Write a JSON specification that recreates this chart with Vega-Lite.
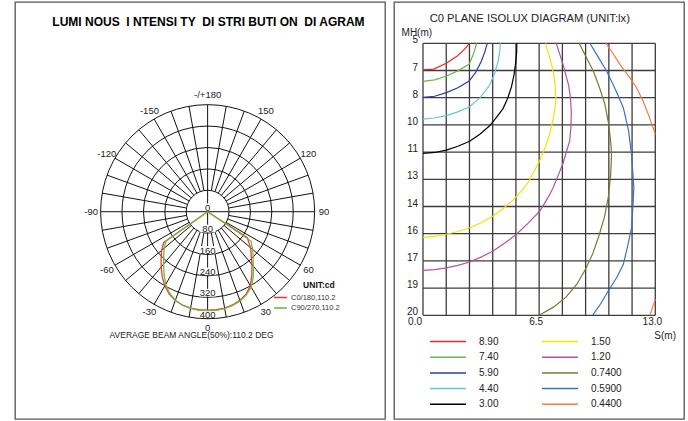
{
  "$schema": "https://vega.github.io/schema/vega-lite/v6.json",
  "background": "white",
  "padding": {"left": 14, "top": 1, "right": 5, "bottom": 2},
  "spacing": 7,
  "config": {
    "view": {"stroke": "#555", "strokeWidth": 1.3},
    "font": "Liberation Sans",
    "text": {"color": "#222"}
  },
  "datasets": {
    "rings": [{"r": 80}, {"r": 160}, {"r": 240}, {"r": 320}, {"r": 400}],
    "spokes": [
      {"a": -170, "r0": 80}, {"a": -160, "r0": 80}, {"a": -150, "r0": 80}, {"a": -140, "r0": 80}, {"a": -130, "r0": 80}, {"a": -120, "r0": 80}, {"a": -110, "r0": 80}, {"a": -100, "r0": 80}, {"a": -90, "r0": 0},
      {"a": -80, "r0": 80}, {"a": -70, "r0": 80}, {"a": -60, "r0": 80}, {"a": -50, "r0": 80}, {"a": -40, "r0": 80}, {"a": -30, "r0": 80}, {"a": -20, "r0": 80}, {"a": -10, "r0": 80}, {"a": 0, "r0": 0},
      {"a": 10, "r0": 80}, {"a": 20, "r0": 80}, {"a": 30, "r0": 80}, {"a": 40, "r0": 80}, {"a": 50, "r0": 80}, {"a": 60, "r0": 80}, {"a": 70, "r0": 80}, {"a": 80, "r0": 80}, {"a": 90, "r0": 0},
      {"a": 100, "r0": 80}, {"a": 110, "r0": 80}, {"a": 120, "r0": 80}, {"a": 130, "r0": 80}, {"a": 140, "r0": 80}, {"a": 150, "r0": 80}, {"a": 160, "r0": 80}, {"a": 170, "r0": 80}, {"a": 180, "r0": 0}
    ],
    "ringLabels": [{"r": 0, "t": "0"}, {"r": 80, "t": "80"}, {"r": 160, "t": "160"}, {"r": 240, "t": "240"}, {"r": 320, "t": "320"}, {"r": 400, "t": "400"}],
    "angleLabels": [
      {"a": 180, "t": "-/+180"}, {"a": 150, "t": "150"}, {"a": 120, "t": "120"}, {"a": 90, "t": "90"}, {"a": 60, "t": "60"}, {"a": 30, "t": "30"},
      {"a": 0, "t": "0"}, {"a": -30, "t": "-30"}, {"a": -60, "t": "-60"}, {"a": -90, "t": "-90"}, {"a": -120, "t": "-120"}, {"a": -150, "t": "-150"}
    ],
    "intensity": [
      {"c": "C0/180,110.2", "g": -90, "i": 0}, {"c": "C0/180,110.2", "g": -55, "i": 200}, {"c": "C0/180,110.2", "g": -50, "i": 224}, {"c": "C0/180,110.2", "g": -45, "i": 246},
      {"c": "C0/180,110.2", "g": -40, "i": 270}, {"c": "C0/180,110.2", "g": -35, "i": 296}, {"c": "C0/180,110.2", "g": -30, "i": 320}, {"c": "C0/180,110.2", "g": -25, "i": 340},
      {"c": "C0/180,110.2", "g": -20, "i": 353}, {"c": "C0/180,110.2", "g": -15, "i": 362}, {"c": "C0/180,110.2", "g": -10, "i": 366}, {"c": "C0/180,110.2", "g": -5, "i": 368},
      {"c": "C0/180,110.2", "g": 0, "i": 368}, {"c": "C0/180,110.2", "g": 5, "i": 368}, {"c": "C0/180,110.2", "g": 10, "i": 366}, {"c": "C0/180,110.2", "g": 15, "i": 361},
      {"c": "C0/180,110.2", "g": 20, "i": 352}, {"c": "C0/180,110.2", "g": 25, "i": 340}, {"c": "C0/180,110.2", "g": 30, "i": 320}, {"c": "C0/180,110.2", "g": 35, "i": 288},
      {"c": "C0/180,110.2", "g": 40, "i": 258}, {"c": "C0/180,110.2", "g": 45, "i": 230}, {"c": "C0/180,110.2", "g": 50, "i": 210}, {"c": "C0/180,110.2", "g": 57, "i": 176},
      {"c": "C0/180,110.2", "g": 90, "i": 0},
      {"c": "C90/270,110.2", "g": -90, "i": 0}, {"c": "C90/270,110.2", "g": -55, "i": 190}, {"c": "C90/270,110.2", "g": -50, "i": 212}, {"c": "C90/270,110.2", "g": -45, "i": 232},
      {"c": "C90/270,110.2", "g": -40, "i": 256}, {"c": "C90/270,110.2", "g": -35, "i": 284}, {"c": "C90/270,110.2", "g": -30, "i": 314}, {"c": "C90/270,110.2", "g": -25, "i": 336},
      {"c": "C90/270,110.2", "g": -20, "i": 352}, {"c": "C90/270,110.2", "g": -15, "i": 362}, {"c": "C90/270,110.2", "g": -10, "i": 367}, {"c": "C90/270,110.2", "g": -5, "i": 370},
      {"c": "C90/270,110.2", "g": 0, "i": 370}, {"c": "C90/270,110.2", "g": 5, "i": 370}, {"c": "C90/270,110.2", "g": 10, "i": 368}, {"c": "C90/270,110.2", "g": 15, "i": 363},
      {"c": "C90/270,110.2", "g": 20, "i": 355}, {"c": "C90/270,110.2", "g": 25, "i": 343}, {"c": "C90/270,110.2", "g": 30, "i": 326}, {"c": "C90/270,110.2", "g": 35, "i": 298},
      {"c": "C90/270,110.2", "g": 40, "i": 266}, {"c": "C90/270,110.2", "g": 45, "i": 240}, {"c": "C90/270,110.2", "g": 50, "i": 220}, {"c": "C90/270,110.2", "g": 56, "i": 196},
      {"c": "C90/270,110.2", "g": 90, "i": 0}
    ],
    "vgrid": [{"s": 0}, {"s": 1.3}, {"s": 2.6}, {"s": 3.9}, {"s": 5.2}, {"s": 6.5}, {"s": 7.8}, {"s": 9.1}, {"s": 10.4}, {"s": 11.7}, {"s": 13}],
    "hgrid": [{"mh": 5}, {"mh": 6.5}, {"mh": 8}, {"mh": 9.5}, {"mh": 11}, {"mh": 12.5}, {"mh": 14}, {"mh": 15.5}, {"mh": 17}, {"mh": 18.5}, {"mh": 20}],
    "ylabels": [
      {"mh": 5, "t": "5"}, {"mh": 6.5, "t": "7"}, {"mh": 8, "t": "8"}, {"mh": 9.5, "t": "10"}, {"mh": 11, "t": "11"}, {"mh": 12.5, "t": "13"},
      {"mh": 14, "t": "14"}, {"mh": 15.5, "t": "16"}, {"mh": 17, "t": "17"}, {"mh": 18.5, "t": "19"}, {"mh": 20, "t": "20"}
    ],
    "isolux": [
      {"lux": "8.90", "seg": "a", "o": 1, "s": 0, "mh": 6.47}, {"lux": "8.90", "seg": "a", "o": 2, "s": 0.6, "mh": 6.42}, {"lux": "8.90", "seg": "a", "o": 3, "s": 1.31, "mh": 6.1},
      {"lux": "8.90", "seg": "a", "o": 4, "s": 1.9, "mh": 5.72}, {"lux": "8.90", "seg": "a", "o": 5, "s": 2.3, "mh": 5.35}, {"lux": "8.90", "seg": "a", "o": 6, "s": 2.6, "mh": 5.0},

      {"lux": "7.40", "seg": "a", "o": 1, "s": 0, "mh": 7.1}, {"lux": "7.40", "seg": "a", "o": 2, "s": 0.65, "mh": 7.02}, {"lux": "7.40", "seg": "a", "o": 3, "s": 1.31, "mh": 6.8},
      {"lux": "7.40", "seg": "a", "o": 4, "s": 1.95, "mh": 6.52}, {"lux": "7.40", "seg": "a", "o": 5, "s": 2.58, "mh": 6.16}, {"lux": "7.40", "seg": "a", "o": 6, "s": 2.82, "mh": 5.6},
      {"lux": "7.40", "seg": "a", "o": 7, "s": 3.0, "mh": 5.0},

      {"lux": "5.90", "seg": "a", "o": 1, "s": 0, "mh": 7.98}, {"lux": "5.90", "seg": "a", "o": 2, "s": 0.65, "mh": 7.92}, {"lux": "5.90", "seg": "a", "o": 3, "s": 1.31, "mh": 7.72},
      {"lux": "5.90", "seg": "a", "o": 4, "s": 1.95, "mh": 7.45}, {"lux": "5.90", "seg": "a", "o": 5, "s": 2.58, "mh": 7.08}, {"lux": "5.90", "seg": "a", "o": 6, "s": 2.95, "mh": 6.6},
      {"lux": "5.90", "seg": "a", "o": 7, "s": 3.27, "mh": 5.98}, {"lux": "5.90", "seg": "a", "o": 8, "s": 3.45, "mh": 5.5}, {"lux": "5.90", "seg": "a", "o": 9, "s": 3.6, "mh": 5.0},

      {"lux": "4.40", "seg": "a", "o": 1, "s": 0, "mh": 9.18}, {"lux": "4.40", "seg": "a", "o": 2, "s": 0.65, "mh": 9.12}, {"lux": "4.40", "seg": "a", "o": 3, "s": 1.31, "mh": 8.99},
      {"lux": "4.40", "seg": "a", "o": 4, "s": 1.95, "mh": 8.78}, {"lux": "4.40", "seg": "a", "o": 5, "s": 2.61, "mh": 8.5}, {"lux": "4.40", "seg": "a", "o": 6, "s": 3.2, "mh": 8.0},
      {"lux": "4.40", "seg": "a", "o": 7, "s": 3.7, "mh": 7.35}, {"lux": "4.40", "seg": "a", "o": 8, "s": 4.0, "mh": 6.7}, {"lux": "4.40", "seg": "a", "o": 9, "s": 4.2, "mh": 6.0},
      {"lux": "4.40", "seg": "a", "o": 10, "s": 4.29, "mh": 5.5}, {"lux": "4.40", "seg": "a", "o": 11, "s": 4.33, "mh": 5.0},

      {"lux": "3.00", "seg": "a", "o": 1, "s": 0, "mh": 11.07}, {"lux": "3.00", "seg": "a", "o": 2, "s": 0.65, "mh": 11.02}, {"lux": "3.00", "seg": "a", "o": 3, "s": 1.31, "mh": 10.89},
      {"lux": "3.00", "seg": "a", "o": 4, "s": 1.95, "mh": 10.68}, {"lux": "3.00", "seg": "a", "o": 5, "s": 2.61, "mh": 10.4}, {"lux": "3.00", "seg": "a", "o": 6, "s": 3.2, "mh": 10.0},
      {"lux": "3.00", "seg": "a", "o": 7, "s": 3.73, "mh": 9.55}, {"lux": "3.00", "seg": "a", "o": 8, "s": 4.1, "mh": 9.1}, {"lux": "3.00", "seg": "a", "o": 9, "s": 4.48, "mh": 8.6},
      {"lux": "3.00", "seg": "a", "o": 10, "s": 4.75, "mh": 8.0}, {"lux": "3.00", "seg": "a", "o": 11, "s": 4.95, "mh": 7.4}, {"lux": "3.00", "seg": "a", "o": 12, "s": 5.1, "mh": 6.7},
      {"lux": "3.00", "seg": "a", "o": 13, "s": 5.2, "mh": 6.0}, {"lux": "3.00", "seg": "a", "o": 14, "s": 5.24, "mh": 5.5}, {"lux": "3.00", "seg": "a", "o": 15, "s": 5.25, "mh": 5.0},

      {"lux": "1.50", "seg": "a", "o": 1, "s": 0, "mh": 15.7}, {"lux": "1.50", "seg": "a", "o": 2, "s": 0.65, "mh": 15.65}, {"lux": "1.50", "seg": "a", "o": 3, "s": 1.31, "mh": 15.53},
      {"lux": "1.50", "seg": "a", "o": 4, "s": 1.95, "mh": 15.38}, {"lux": "1.50", "seg": "a", "o": 5, "s": 2.62, "mh": 15.17}, {"lux": "1.50", "seg": "a", "o": 6, "s": 3.27, "mh": 14.88},
      {"lux": "1.50", "seg": "a", "o": 7, "s": 3.92, "mh": 14.52}, {"lux": "1.50", "seg": "a", "o": 8, "s": 4.5, "mh": 14.1}, {"lux": "1.50", "seg": "a", "o": 9, "s": 5.04, "mh": 13.65},
      {"lux": "1.50", "seg": "a", "o": 10, "s": 5.5, "mh": 13.15}, {"lux": "1.50", "seg": "a", "o": 11, "s": 5.88, "mh": 12.69}, {"lux": "1.50", "seg": "a", "o": 12, "s": 6.2, "mh": 12.1},
      {"lux": "1.50", "seg": "a", "o": 13, "s": 6.53, "mh": 11.47}, {"lux": "1.50", "seg": "a", "o": 14, "s": 6.85, "mh": 10.7}, {"lux": "1.50", "seg": "a", "o": 15, "s": 7.09, "mh": 10.0},
      {"lux": "1.50", "seg": "a", "o": 16, "s": 7.28, "mh": 9.2}, {"lux": "1.50", "seg": "a", "o": 17, "s": 7.4, "mh": 8.5}, {"lux": "1.50", "seg": "a", "o": 18, "s": 7.43, "mh": 8.0},
      {"lux": "1.50", "seg": "a", "o": 19, "s": 7.4, "mh": 7.3}, {"lux": "1.50", "seg": "a", "o": 20, "s": 7.3, "mh": 6.6}, {"lux": "1.50", "seg": "a", "o": 21, "s": 7.15, "mh": 6.0},
      {"lux": "1.50", "seg": "a", "o": 22, "s": 7.0, "mh": 5.5}, {"lux": "1.50", "seg": "a", "o": 23, "s": 6.87, "mh": 5.0},

      {"lux": "1.20", "seg": "a", "o": 1, "s": 0, "mh": 17.52}, {"lux": "1.20", "seg": "a", "o": 2, "s": 0.65, "mh": 17.48}, {"lux": "1.20", "seg": "a", "o": 3, "s": 1.31, "mh": 17.38},
      {"lux": "1.20", "seg": "a", "o": 4, "s": 1.95, "mh": 17.25}, {"lux": "1.20", "seg": "a", "o": 5, "s": 2.62, "mh": 17.06}, {"lux": "1.20", "seg": "a", "o": 6, "s": 3.27, "mh": 16.78},
      {"lux": "1.20", "seg": "a", "o": 7, "s": 3.92, "mh": 16.45}, {"lux": "1.20", "seg": "a", "o": 8, "s": 4.6, "mh": 16.0}, {"lux": "1.20", "seg": "a", "o": 9, "s": 5.23, "mh": 15.53},
      {"lux": "1.20", "seg": "a", "o": 10, "s": 5.9, "mh": 14.9}, {"lux": "1.20", "seg": "a", "o": 11, "s": 6.54, "mh": 14.25}, {"lux": "1.20", "seg": "a", "o": 12, "s": 7.0, "mh": 13.5},
      {"lux": "1.20", "seg": "a", "o": 13, "s": 7.28, "mh": 12.97}, {"lux": "1.20", "seg": "a", "o": 14, "s": 7.6, "mh": 12.2}, {"lux": "1.20", "seg": "a", "o": 15, "s": 7.84, "mh": 11.6},
      {"lux": "1.20", "seg": "a", "o": 16, "s": 8.05, "mh": 10.9}, {"lux": "1.20", "seg": "a", "o": 17, "s": 8.21, "mh": 10.37}, {"lux": "1.20", "seg": "a", "o": 18, "s": 8.28, "mh": 9.6},
      {"lux": "1.20", "seg": "a", "o": 19, "s": 8.3, "mh": 8.8}, {"lux": "1.20", "seg": "a", "o": 20, "s": 8.25, "mh": 8.0}, {"lux": "1.20", "seg": "a", "o": 21, "s": 8.15, "mh": 7.3},
      {"lux": "1.20", "seg": "a", "o": 22, "s": 8.03, "mh": 6.89}, {"lux": "1.20", "seg": "a", "o": 23, "s": 7.85, "mh": 6.2}, {"lux": "1.20", "seg": "a", "o": 24, "s": 7.65, "mh": 5.6},
      {"lux": "1.20", "seg": "a", "o": 25, "s": 7.46, "mh": 5.0},

      {"lux": "0.7400", "seg": "a", "o": 1, "s": 8.74, "mh": 5.0}, {"lux": "0.7400", "seg": "a", "o": 2, "s": 9.13, "mh": 5.75}, {"lux": "0.7400", "seg": "a", "o": 3, "s": 9.53, "mh": 6.53},
      {"lux": "0.7400", "seg": "a", "o": 4, "s": 9.88, "mh": 7.45}, {"lux": "0.7400", "seg": "a", "o": 5, "s": 10.18, "mh": 8.37}, {"lux": "0.7400", "seg": "a", "o": 6, "s": 10.4, "mh": 9.5},
      {"lux": "0.7400", "seg": "a", "o": 7, "s": 10.52, "mh": 10.6}, {"lux": "0.7400", "seg": "a", "o": 8, "s": 10.55, "mh": 11.2}, {"lux": "0.7400", "seg": "a", "o": 9, "s": 10.5, "mh": 12.3},
      {"lux": "0.7400", "seg": "a", "o": 10, "s": 10.37, "mh": 13.5}, {"lux": "0.7400", "seg": "a", "o": 11, "s": 10.15, "mh": 14.6}, {"lux": "0.7400", "seg": "a", "o": 12, "s": 9.85, "mh": 15.6},
      {"lux": "0.7400", "seg": "a", "o": 13, "s": 9.5, "mh": 16.6}, {"lux": "0.7400", "seg": "a", "o": 14, "s": 9.1, "mh": 17.45}, {"lux": "0.7400", "seg": "a", "o": 15, "s": 8.6, "mh": 18.3},
      {"lux": "0.7400", "seg": "a", "o": 16, "s": 8.0, "mh": 19.0}, {"lux": "0.7400", "seg": "a", "o": 17, "s": 7.3, "mh": 19.55}, {"lux": "0.7400", "seg": "a", "o": 18, "s": 6.5, "mh": 20.0},

      {"lux": "0.5900", "seg": "a", "o": 1, "s": 9.34, "mh": 5.0}, {"lux": "0.5900", "seg": "a", "o": 2, "s": 9.8, "mh": 5.75}, {"lux": "0.5900", "seg": "a", "o": 3, "s": 10.27, "mh": 6.53},
      {"lux": "0.5900", "seg": "a", "o": 4, "s": 10.75, "mh": 7.5}, {"lux": "0.5900", "seg": "a", "o": 5, "s": 11.21, "mh": 8.55}, {"lux": "0.5900", "seg": "a", "o": 6, "s": 11.5, "mh": 9.8},
      {"lux": "0.5900", "seg": "a", "o": 7, "s": 11.67, "mh": 11.12}, {"lux": "0.5900", "seg": "a", "o": 8, "s": 11.8, "mh": 12.96}, {"lux": "0.5900", "seg": "a", "o": 9, "s": 11.75, "mh": 14.0},
      {"lux": "0.5900", "seg": "a", "o": 10, "s": 11.67, "mh": 15.17}, {"lux": "0.5900", "seg": "a", "o": 11, "s": 11.45, "mh": 16.2}, {"lux": "0.5900", "seg": "a", "o": 12, "s": 11.21, "mh": 17.19},
      {"lux": "0.5900", "seg": "a", "o": 13, "s": 10.85, "mh": 17.9}, {"lux": "0.5900", "seg": "a", "o": 14, "s": 10.37, "mh": 18.66}, {"lux": "0.5900", "seg": "a", "o": 15, "s": 9.95, "mh": 19.35},
      {"lux": "0.5900", "seg": "a", "o": 16, "s": 9.49, "mh": 20.0},

      {"lux": "0.4400", "seg": "a", "o": 1, "s": 10.24, "mh": 5.0}, {"lux": "0.4400", "seg": "a", "o": 2, "s": 10.62, "mh": 5.55}, {"lux": "0.4400", "seg": "a", "o": 3, "s": 11.02, "mh": 6.16},
      {"lux": "0.4400", "seg": "a", "o": 4, "s": 11.5, "mh": 6.8}, {"lux": "0.4400", "seg": "a", "o": 5, "s": 11.95, "mh": 7.45}, {"lux": "0.4400", "seg": "a", "o": 6, "s": 12.3, "mh": 8.15},
      {"lux": "0.4400", "seg": "a", "o": 7, "s": 12.61, "mh": 8.92}, {"lux": "0.4400", "seg": "a", "o": 8, "s": 12.82, "mh": 9.5}, {"lux": "0.4400", "seg": "a", "o": 9, "s": 13.0, "mh": 10.02},
      {"lux": "0.4400", "seg": "b", "o": 1, "s": 12.7, "mh": 20.0}, {"lux": "0.4400", "seg": "b", "o": 2, "s": 12.85, "mh": 19.55}, {"lux": "0.4400", "seg": "b", "o": 3, "s": 13.0, "mh": 19.12}
    ]
  },
  "resolve": {"scale": {"color": "independent"}, "legend": {"color": "independent"}},
  "hconcat": [
    {
      "width": 370,
      "height": 417,
      "layer": [
        {
          "data": {"name": "rings"},
          "mark": {"type": "point", "shape": "circle", "filled": false, "stroke": "#111", "strokeWidth": 1, "opacity": 1},
          "encoding": {
            "x": {"datum": 0, "type": "quantitative", "scale": {"domain": [-720, 663], "nice": false, "zero": false}, "axis": null},
            "y": {"datum": 0, "type": "quantitative", "scale": {"domain": [-775, 784], "nice": false, "zero": false}, "axis": null},
            "size": {"field": "r", "type": "quantitative", "scale": {"type": "pow", "exponent": 2, "domain": [0, 400], "range": [0, 45796]}, "legend": null}
          }
        },
        {
          "data": {"name": "spokes"},
          "transform": [
            {"calculate": "datum.r0*sin(datum.a*PI/180)", "as": "px"},
            {"calculate": "-datum.r0*cos(datum.a*PI/180)", "as": "py"},
            {"calculate": "400*sin(datum.a*PI/180)", "as": "px2"},
            {"calculate": "-400*cos(datum.a*PI/180)", "as": "py2"}
          ],
          "mark": {"type": "rule", "stroke": "#111", "strokeWidth": 1},
          "encoding": {
            "x": {"field": "px", "type": "quantitative", "scale": {"domain": [-720, 663], "nice": false, "zero": false}, "axis": null},
            "y": {"field": "py", "type": "quantitative", "scale": {"domain": [-775, 784], "nice": false, "zero": false}, "axis": null},
            "x2": {"field": "px2"},
            "y2": {"field": "py2"}
          }
        },
        {
          "data": {"name": "ringLabels"},
          "transform": [{"calculate": "-datum.r", "as": "py"}],
          "mark": {"type": "point", "shape": "M-1,-1.05H1V-0.1H-1Z", "filled": true, "fill": "white", "stroke": null, "size": 256, "opacity": 1},
          "encoding": {
            "x": {"datum": 0, "type": "quantitative", "scale": {"domain": [-720, 663], "nice": false, "zero": false}, "axis": null},
            "y": {"field": "py", "type": "quantitative", "scale": {"domain": [-775, 784], "nice": false, "zero": false}, "axis": null}
          }
        },
        {
          "data": {"name": "ringLabels"},
          "transform": [{"calculate": "-datum.r", "as": "py"}],
          "mark": {"type": "text", "fontSize": 9.5, "baseline": "alphabetic", "align": "center", "dy": -1},
          "encoding": {
            "x": {"datum": 0, "type": "quantitative", "scale": {"domain": [-720, 663], "nice": false, "zero": false}, "axis": null},
            "y": {"field": "py", "type": "quantitative", "scale": {"domain": [-775, 784], "nice": false, "zero": false}, "axis": null},
            "text": {"field": "t"}
          }
        },
        {
          "data": {"name": "angleLabels"},
          "transform": [
            {"calculate": "435*sin(datum.a*PI/180)", "as": "px"},
            {"calculate": "-435*cos(datum.a*PI/180)", "as": "py"}
          ],
          "mark": {"type": "text", "fontSize": 9.5, "baseline": "middle", "align": "center"},
          "encoding": {
            "x": {"field": "px", "type": "quantitative", "scale": {"domain": [-720, 663], "nice": false, "zero": false}, "axis": null},
            "y": {"field": "py", "type": "quantitative", "scale": {"domain": [-775, 784], "nice": false, "zero": false}, "axis": null},
            "text": {"field": "t"}
          }
        },
        {
          "data": {"name": "intensity"},
          "transform": [
            {"calculate": "datum.i*sin(datum.g*PI/180)", "as": "px"},
            {"calculate": "-datum.i*cos(datum.g*PI/180)", "as": "py"}
          ],
          "mark": {"type": "line", "strokeWidth": 1.3},
          "encoding": {
            "x": {"field": "px", "type": "quantitative", "scale": {"domain": [-720, 663], "nice": false, "zero": false}, "axis": null},
            "y": {"field": "py", "type": "quantitative", "scale": {"domain": [-775, 784], "nice": false, "zero": false}, "axis": null},
            "order": {"field": "g", "type": "quantitative"},
            "color": {
              "field": "c", "type": "nominal",
              "scale": {"domain": ["C0/180,110.2", "C90/270,110.2"], "range": ["#ec3a3a", "#6cbd42"]},
              "legend": {
                "orient": "none", "legendX": 261, "legendY": 291, "title": null, "padding": 0,
                "symbolType": "M-2,0H2", "symbolSize": 42, "symbolStrokeWidth": 1.6,
                "labelFontSize": 7.5, "labelOffset": 6, "rowPadding": 2.5, "labelColor": "#333"
              }
            }
          }
        },
        {
          "data": {"values": [{"t": "LUMI NOUS\u00a0 I NTENSI TY\u00a0 DI STRI BUTI ON\u00a0 DI AGRAM"}]},
          "mark": {"type": "text", "fontSize": 12, "fontWeight": "bold", "baseline": "middle", "align": "center", "color": "#000"},
          "encoding": {
            "x": {"datum": 3, "type": "quantitative", "scale": {"domain": [-720, 663], "nice": false, "zero": false}, "axis": null},
            "y": {"datum": 709, "type": "quantitative", "scale": {"domain": [-775, 784], "nice": false, "zero": false}, "axis": null},
            "text": {"field": "t"}
          }
        },
        {
          "data": {"values": [{"t": "AVERAGE BEAM ANGLE(50%):110.2 DEG"}]},
          "mark": {"type": "text", "fontSize": 8.5, "baseline": "middle", "align": "center"},
          "encoding": {
            "x": {"datum": -60, "type": "quantitative", "scale": {"domain": [-720, 663], "nice": false, "zero": false}, "axis": null},
            "y": {"datum": -462, "type": "quantitative", "scale": {"domain": [-775, 784], "nice": false, "zero": false}, "axis": null},
            "text": {"field": "t"}
          }
        },
        {
          "data": {"values": [{"t": "UNIT:cd"}]},
          "mark": {"type": "text", "fontSize": 8.5, "fontWeight": "bold", "baseline": "middle", "align": "center", "color": "#111"},
          "encoding": {
            "x": {"datum": 416, "type": "quantitative", "scale": {"domain": [-720, 663], "nice": false, "zero": false}, "axis": null},
            "y": {"datum": -274, "type": "quantitative", "scale": {"domain": [-775, 784], "nice": false, "zero": false}, "axis": null},
            "text": {"field": "t"}
          }
        }
      ]
    },
    {
      "width": 290,
      "height": 417,
      "layer": [
        {
          "data": {"name": "vgrid"},
          "mark": {"type": "rule", "stroke": "#3c3c3c", "strokeWidth": 1.3},
          "encoding": {
            "x": {"field": "s", "type": "quantitative", "scale": {"domain": [-1.623, 14.606], "nice": false, "zero": false}, "axis": null},
            "y": {"datum": 5, "type": "quantitative", "scale": {"domain": [2.722, 25.719], "reverse": true, "nice": false, "zero": false}, "axis": null},
            "y2": {"datum": 20}
          }
        },
        {
          "data": {"name": "hgrid"},
          "mark": {"type": "rule", "stroke": "#3c3c3c", "strokeWidth": 1.3},
          "encoding": {
            "x": {"datum": 0, "type": "quantitative", "scale": {"domain": [-1.623, 14.606], "nice": false, "zero": false}, "axis": null},
            "x2": {"datum": 13},
            "y": {"field": "mh", "type": "quantitative", "scale": {"domain": [2.722, 25.719], "reverse": true, "nice": false, "zero": false}, "axis": null}
          }
        },
        {
          "data": {"name": "ylabels"},
          "mark": {"type": "text", "fontSize": 10, "align": "right", "baseline": "alphabetic", "dx": -5, "dy": 0},
          "encoding": {
            "x": {"datum": 0, "type": "quantitative", "scale": {"domain": [-1.623, 14.606], "nice": false, "zero": false}, "axis": null},
            "y": {"field": "mh", "type": "quantitative", "scale": {"domain": [2.722, 25.719], "reverse": true, "nice": false, "zero": false}, "axis": null},
            "text": {"field": "t"}
          }
        },
        {
          "data": {"values": [{"s": 6.5, "t": "6.5"}, {"s": 13, "t": "13.0"}]},
          "mark": {"type": "text", "fontSize": 10, "align": "center", "baseline": "top", "dx": -3, "dy": 2},
          "encoding": {
            "x": {"field": "s", "type": "quantitative", "scale": {"domain": [-1.623, 14.606], "nice": false, "zero": false}, "axis": null},
            "y": {"datum": 20, "type": "quantitative", "scale": {"domain": [2.722, 25.719], "reverse": true, "nice": false, "zero": false}, "axis": null},
            "text": {"field": "t"}
          }
        },
        {
          "data": {"values": [{"s": 0, "t": "0.0"}]},
          "mark": {"type": "text", "fontSize": 10, "align": "right", "baseline": "top", "dx": -1, "dy": 2},
          "encoding": {
            "x": {"field": "s", "type": "quantitative", "scale": {"domain": [-1.623, 14.606], "nice": false, "zero": false}, "axis": null},
            "y": {"datum": 20, "type": "quantitative", "scale": {"domain": [2.722, 25.719], "reverse": true, "nice": false, "zero": false}, "axis": null},
            "text": {"field": "t"}
          }
        },
        {
          "data": {"name": "isolux"},
          "mark": {"type": "line", "strokeWidth": 1.2},
          "encoding": {
            "x": {"field": "s", "type": "quantitative", "scale": {"domain": [-1.623, 14.606], "nice": false, "zero": false}, "axis": null},
            "y": {"field": "mh", "type": "quantitative", "scale": {"domain": [2.722, 25.719], "reverse": true, "nice": false, "zero": false}, "axis": null},
            "order": {"field": "o", "type": "quantitative"},
            "detail": {"field": "seg", "type": "nominal"},
            "color": {
              "field": "lux", "type": "nominal",
              "scale": {
                "domain": ["8.90", "7.40", "5.90", "4.40", "3.00", "1.50", "1.20", "0.7400", "0.5900", "0.4400"],
                "range": ["#e8262b", "#6ab745", "#2d3e97", "#64c7d9", "#000000", "#f2e500", "#b8519f", "#7b7a2e", "#3b73c4", "#f47c3c"]
              },
              "legend": {
                "orient": "none", "legendX": 47, "legendY": 332.5, "title": null, "padding": 0, "columns": 2,
                "columnPadding": 40, "rowPadding": 3.7,
                "symbolType": "M-3,0H3", "symbolSize": 144, "symbolStrokeWidth": 1.5,
                "labelFontSize": 10, "labelOffset": 24, "labelColor": "#222"
              }
            }
          }
        },
        {
          "data": {"values": [{"t": "C0 PLANE ISOLUX DIAGRAM (UNIT:lx)"}]},
          "mark": {"type": "text", "fontSize": 11.2, "align": "left", "baseline": "middle"},
          "encoding": {
            "x": {"datum": 0.375, "type": "quantitative", "scale": {"domain": [-1.623, 14.606], "nice": false, "zero": false}, "axis": null},
            "y": {"datum": 3.66, "type": "quantitative", "scale": {"domain": [2.722, 25.719], "reverse": true, "nice": false, "zero": false}, "axis": null},
            "text": {"field": "t"}
          }
        },
        {
          "data": {"values": [{"t": "MH(m)"}]},
          "mark": {"type": "text", "fontSize": 10, "align": "left", "baseline": "middle"},
          "encoding": {
            "x": {"datum": -1.2, "type": "quantitative", "scale": {"domain": [-1.623, 14.606], "nice": false, "zero": false}, "axis": null},
            "y": {"datum": 4.45, "type": "quantitative", "scale": {"domain": [2.722, 25.719], "reverse": true, "nice": false, "zero": false}, "axis": null},
            "text": {"field": "t"}
          }
        },
        {
          "data": {"values": [{"t": "S(m)"}]},
          "mark": {"type": "text", "fontSize": 10, "align": "center", "baseline": "middle"},
          "encoding": {
            "x": {"datum": 13.55, "type": "quantitative", "scale": {"domain": [-1.623, 14.606], "nice": false, "zero": false}, "axis": null},
            "y": {"datum": 21.14, "type": "quantitative", "scale": {"domain": [2.722, 25.719], "reverse": true, "nice": false, "zero": false}, "axis": null},
            "text": {"field": "t"}
          }
        }
      ]
    }
  ]
}
